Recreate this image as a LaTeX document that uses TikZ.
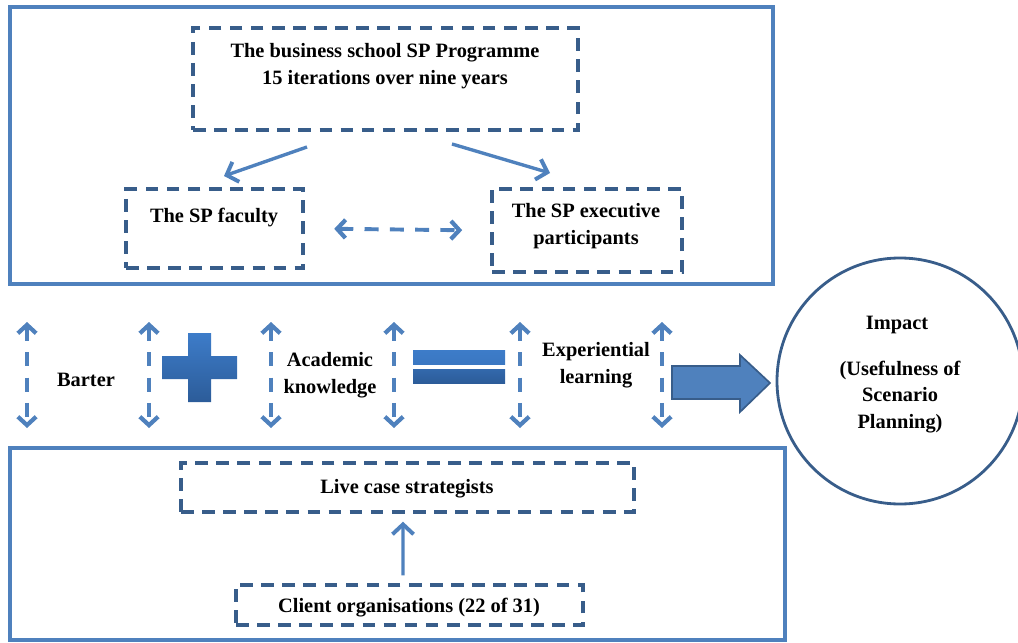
\documentclass[tikz,border=0pt]{standalone}
\usepackage{fontspec}
\setmainfont{Liberation Serif}
\usetikzlibrary{arrows.meta,fit}
\definecolor{lblue}{HTML}{4F81BD}
\definecolor{dblue}{HTML}{385D8A}
\definecolor{plustop}{HTML}{3D7CC9}
\definecolor{plusbot}{HTML}{2C5C99}
\newcommand{\pxu}{0.025cm}

\begin{document}
\begin{tikzpicture}[x=0.025cm,y=-0.025cm,
  font=\fontsize{14.5}{19}\selectfont\bfseries,
  outer/.style={draw=lblue,line width=2.3pt,inner sep=0pt},
  dbox/.style={draw=dblue,line width=2.4pt,dash pattern=on 9pt off 6pt,inner sep=0pt},
  txt/.style={align=center,inner sep=0pt},
  arr/.style={draw=lblue,line width=2.4pt,-{Straight Barb[length=7pt,width=15pt,line width=2.8pt]}},
  darr/.style={draw=lblue,line width=2.8pt,dash pattern=on 10pt off 8pt,
    {Straight Barb[length=6pt,width=13pt,line width=3pt]}-{Straight Barb[length=6pt,width=13pt,line width=3pt]}}]
\useasboundingbox (0,0) rectangle (1018,643);

% top part
\node[outer,fit={(10,7) (773,284)}] (top) {};
\node[dbox,fit={(193,28) (578,130)}] (prog) {};
\node[txt] (progtxt) at (385,66) {The business school SP Programme\\15 iterations over nine years};
\node[dbox,fit={(126,189) (303,268)}] (fac) {};
\node[txt] (factxt) at (214,218) {The SP faculty};
\node[dbox,fit={(492,189) (682,272)}] (exec) {};
\node[txt] (exectxt) at (586,226) {The SP executive\\participants};

\coordinate (p1) at (307,147);
\coordinate (f1) at (224,176);
\coordinate (p2) at (452,144);
\coordinate (e1) at (550,173);
\draw[arr] (p1) -- (f1);
\draw[arr] (p2) -- (e1);
\draw[darr,shorten <=21pt,shorten >=20pt] (fac.east) -- (exec.west);

% middle row
\foreach \x [count=\i] in {27,149,271,394,520,662}{
  \coordinate (up\i) at (\x,322);
  \coordinate (dn\i) at (\x,428);
  \draw[darr] (up\i) -- (dn\i);
}
\node[txt] (barter) at (86,380) {Barter};
\shade[top color=plustop,bottom color=plusbot] (188,333) -- (211,333) -- (211,356)
  -- (237,356) -- (237,379) -- (211,379) -- (211,402) -- (188,402) -- (188,379)
  -- (162,379) -- (162,356) -- (188,356) -- cycle;
\node[txt] (acad) at (330,375) {Academic\\knowledge};
\shade[top color=plustop,bottom color=plustop!85!plusbot] (413,350) rectangle (505,364);
\shade[top color=plustop!40!plusbot,bottom color=plusbot] (413,369) rectangle (505,383);
\node[txt] (exp) at (596,365) {Experiential\\learning};
\draw[draw=dblue,fill=lblue,line width=1.2pt] (672,366) -- (740,366) -- (740,355)
  -- (770,383) -- (740,412) -- (740,399) -- (672,399) -- cycle;

\node[draw=dblue,line width=2pt,circle,minimum size=246*\pxu,inner sep=0pt] (impact) at (900,381) {};
\node[txt] (imptxt) at (897,325) {Impact};
\node[txt] (usetxt) at (900,397) {(Usefulness of\\Scenario\\Planning)};

% bottom part
\node[outer,fit={(10,448) (785,640)}] (bottom) {};
\node[dbox,fit={(181,463) (634,512)}] (live) {};
\node[txt] (livetxt) at (407,489) {Live case strategists};
\node[dbox,fit={(236,585) (583,625)}] (client) {};
\node[txt] (clienttxt) at (409,608) {Client organisations (22 of 31)};
\draw[arr,shorten <=5.7pt,shorten >=5.7pt] ([xshift=-4.6pt]client.north) -- ([xshift=-3.2pt]live.south);
\end{tikzpicture}
\end{document}
